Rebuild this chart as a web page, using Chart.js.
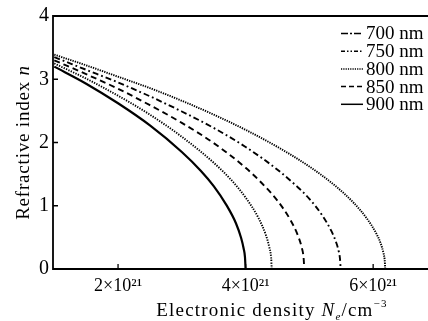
<!DOCTYPE html>
<html>
<head>
<meta charset="utf-8">
<script src="https://cdn.jsdelivr.net/npm/chart.js@4"></script>
<style>
  html, body { margin: 0; padding: 0; background: #fff; }
  #wrap { width: 428px; height: 321px; }
</style>
</head>
<body>
<div id="wrap"><canvas id="myChart" width="428" height="321"></canvas></div>
<script>
// values, N in units of 10^21 cm^-3
const labels = ['700 nm', '750 nm', '800 nm', '850 nm', '900 nm'];

const n700 = [[1.0, 3.39], [1.5, 3.22], [2.0, 3.04], [2.5, 2.86], [3.0, 2.66], [3.5, 2.44], [4.0, 2.20], [4.5, 1.93],
  [5.0, 1.62], [5.4, 1.32], [5.7, 1.04], [5.9, 0.80], [6.05, 0.56], [6.12, 0.40], [6.16, 0.26], [6.18, 0.15], [6.19, 0]];
const n750 = [[1.0, 3.35], [1.5, 3.15], [2.0, 2.95], [2.5, 2.73], [3.0, 2.49], [3.5, 2.23], [4.0, 1.93], [4.5, 1.57],
  [4.8, 1.31], [5.0, 1.11], [5.2, 0.85], [5.35, 0.59], [5.42, 0.42], [5.46, 0.28], [5.48, 0.16], [5.49, 0]];
const n800 = [[1.0, 3.30], [1.5, 3.08], [2.0, 2.85], [2.5, 2.59], [3.0, 2.31], [3.5, 1.99], [4.0, 1.60], [4.3, 1.31],
  [4.5, 1.08], [4.7, 0.78], [4.82, 0.53], [4.88, 0.34], [4.91, 0.17], [4.92, 0]];
const n850 = [[1.0, 3.25], [1.5, 3.01], [2.0, 2.74], [2.5, 2.44], [3.0, 2.09], [3.5, 1.68], [3.8, 1.38], [4.0, 1.13],
  [4.2, 0.81], [4.32, 0.53], [4.37, 0.35], [4.40, 0.18], [4.41, 0]];
const n900 = [[1.0, 3.20], [1.5, 2.93], [2.0, 2.62], [2.5, 2.27], [3.0, 1.85], [3.3, 1.55], [3.5, 1.31], [3.7, 1.01],
  [3.85, 0.72], [3.93, 0.49], [3.97, 0.32], [3.99, 0.19], [4.0, 0]];

const xTicks = [2, 4, 6];
const yTicks = [0, 1, 2, 3, 4];

const series = [n700, n750, n800, n850, n900];
// line styles of the curves as drawn, and of the legend glyphs
const curveDash = [[1.3, 1.1], [6, 3, 1.8, 3], [6, 4], [1.3, 1.3], []];
const legendDash = [[7, 2, 2, 2], [4, 2, 1.5, 2, 1.5, 2], [1.2, 1.1], [5, 3], []];

const serif = '"Liberation Serif", "Times New Roman", serif';
const ink = '#000';

const framePlugin = {
  id: 'frame',
  afterDraw(chart) {
    const c = chart.ctx;
    const a = chart.chartArea;
    const xs = chart.scales.x;
    const ys = chart.scales.y;
    c.save();
    c.strokeStyle = ink;
    c.lineWidth = 1.8;
    c.beginPath();
    c.moveTo(a.right, a.top); c.lineTo(a.left, a.top);
    c.lineTo(a.left, a.bottom); c.lineTo(a.right, a.bottom);
    c.stroke();
    // inward ticks
    c.lineWidth = 1.3;
    c.beginPath();
    xTicks.forEach(v => {
      const p = xs.getPixelForValue(v);
      c.moveTo(p, a.bottom); c.lineTo(p, a.bottom - 5);
    });
    yTicks.forEach(v => {
      const p = ys.getPixelForValue(v);
      c.moveTo(a.left, p); c.lineTo(a.left + 5, p);
    });
    c.stroke();

    // legend
    c.font = '19px ' + serif;
    c.fillStyle = ink;
    c.textBaseline = 'middle';
    c.textAlign = 'left';
    labels.forEach((lab, i) => {
      const y = a.top + 17.5 + i * 17.7;
      c.setLineDash(legendDash[i]);
      c.lineWidth = 1.5;
      c.beginPath();
      c.moveTo(341, y); c.lineTo(363, y);
      c.stroke();
      c.setLineDash([]);
      c.fillText(lab, 366, y + 1);
    });

    // x title
    c.letterSpacing = '1.2px';
    const parts = [
      ['Electronic density ', '19px ' + serif, 0],
      ['N', 'italic 19px ' + serif, 0],
      ['e', 'italic 11px ' + serif, 4],
      ['/cm', '19px ' + serif, 0],
      ['\u22123', '11px ' + serif, -9]
    ];
    let w = 0;
    parts.forEach(p => { c.font = p[1]; w += c.measureText(p[0]).width; });
    let x = 272 - w / 2;
    c.textBaseline = 'alphabetic';
    parts.forEach(p => {
      c.font = p[1];
      c.fillText(p[0], x, 316 + p[2]);
      x += c.measureText(p[0]).width;
    });

    // y title
    c.letterSpacing = '0.8px';
    c.translate(29, ys.getPixelForValue(2));
    c.rotate(-Math.PI / 2);
    const yparts = [['Refractive index ', '19px ' + serif], ['n', 'italic 19px ' + serif]];
    w = 0;
    yparts.forEach(p => { c.font = p[1]; w += c.measureText(p[0]).width; });
    x = -w / 2;
    yparts.forEach(p => {
      c.font = p[1];
      c.fillText(p[0], x, 0);
      x += c.measureText(p[0]).width;
    });
    c.restore();
  }
};

new Chart(document.getElementById('myChart'), {
  type: 'line',
  data: {
    datasets: series.map((d, i) => ({
      label: labels[i],
      data: d.map(p => ({ x: p[0], y: p[1] })),
      borderColor: ink,
      borderWidth: i === 4 ? 2.2 : 1.9,
      borderDash: curveDash[i],
      pointRadius: 0,
      cubicInterpolationMode: 'monotone',
      fill: false
    }))
  },
  options: {
    responsive: false,
    animation: false,
    layout: { padding: { top: 16, right: 0, left: 0, bottom: 0 } },
    plugins: {
      legend: { display: false },
      tooltip: { enabled: false }
    },
    scales: {
      x: {
        type: 'linear',
        min: 0.98,
        max: 6.86,
        afterBuildTicks: s => { s.ticks = xTicks.map(v => ({ value: v })); },
        afterFit: s => { s.height = 321 - 16 - 253; },
        grid: { display: false, drawTicks: false },
        border: { display: false },
        ticks: {
          padding: 6,
          color: ink,
          font: { family: serif, size: 18 },
          callback: v => v + '\u00d710\u00b2\u00b9'
        }
      },
      y: {
        type: 'linear',
        min: 0,
        max: 4,
        afterBuildTicks: s => { s.ticks = yTicks.map(v => ({ value: v })); },
        afterFit: s => { s.width = 53; },
        grid: { display: false, drawTicks: false },
        border: { display: false },
        ticks: {
          padding: 4,
          color: ink,
          font: { family: serif, size: 20 }
        }
      }
    }
  },
  plugins: [framePlugin]
});
</script>
</body>
</html>
